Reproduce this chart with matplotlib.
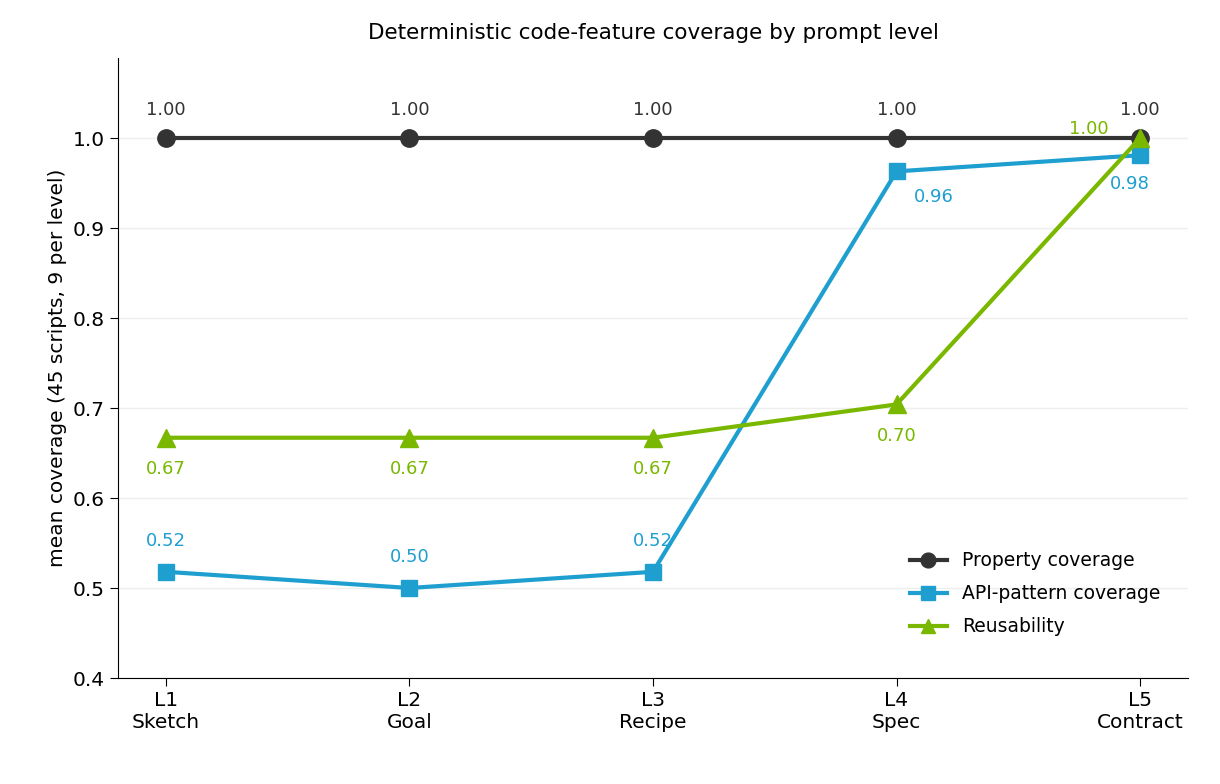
import matplotlib
matplotlib.use("Agg")
import matplotlib.pyplot as plt

levels = ["L1\nSketch", "L2\nGoal", "L3\nRecipe", "L4\nSpec", "L5\nContract"]
prop = [1.00, 1.00, 1.00, 1.00, 1.00]
api = [0.518, 0.500, 0.518, 0.963, 0.981]
reuse = [0.667, 0.667, 0.667, 0.704, 1.000]

c_prop, c_api, c_reuse = "#333333", "#1f9fd0", "#7ab800"

fig = plt.figure(figsize=(12.2, 7.84), dpi=100)
ax = fig.add_axes([118/1220, 1-678/784, 1070/1220, 620/784])
x = list(range(len(levels)))
ax.plot(x, prop, "-o", color=c_prop, lw=3, ms=12.5, label="Property coverage", zorder=3)
ax.plot(x, api, "-s", color=c_api, lw=3, ms=11.5, label="API-pattern coverage", zorder=4)
ax.plot(x, reuse, "-^", color=c_reuse, lw=3, ms=12.5, label="Reusability", zorder=5)

fs = 13
for i, v in enumerate(prop):
    ax.annotate(f"{v:.2f}", (i, v), xytext=(0, 14), textcoords="offset points",
                ha="center", va="bottom", fontsize=fs, color=c_prop)
for i, v in enumerate(api):
    if i < 3:
        off, va = (0, 16), "bottom"
    elif i == 3:
        off, va = (27, -12), "top"
    else:
        off, va = (-7, -14), "top"
    ax.annotate(f"{v:.2f}", (i, v), xytext=off, textcoords="offset points",
                ha="center", va=va, fontsize=fs, color=c_api)
for i, v in enumerate(reuse):
    if i < 4:
        off, va = (0, -16), "bottom" if False else "top"
    else:
        off, va = (-37, 0), "bottom"
    ax.annotate(f"{v:.2f}", (i, v), xytext=off, textcoords="offset points",
                ha="center", va=va, fontsize=fs, color=c_reuse)

ax.set_xlim(-0.197, 4.197)
ax.set_ylim(0.4, 1.089)
ax.set_yticks([0.4, 0.5, 0.6, 0.7, 0.8, 0.9, 1.0])
ax.set_yticklabels(["0.4", "0.5", "0.6", "0.7", "0.8", "0.9", "1.0"])
ax.set_xticks(x)
ax.set_xticklabels(levels)
ax.tick_params(labelsize=14.5, length=6)
ax.grid(axis="y", color="#eeeeee", lw=1)
ax.set_axisbelow(True)
for s in ["top", "right"]:
    ax.spines[s].set_visible(False)
ax.set_ylabel("mean coverage (45 scripts, 9 per level)", fontsize=14.5)
ax.set_title("Deterministic code-feature coverage by prompt level", fontsize=15.5, pad=14)
ax.legend(loc="lower right", frameon=False, fontsize=13.5, bbox_to_anchor=(0.99, 0.04),
          labelspacing=0.75, markerscale=0.85)
fig.savefig("out.png", dpi=100)
